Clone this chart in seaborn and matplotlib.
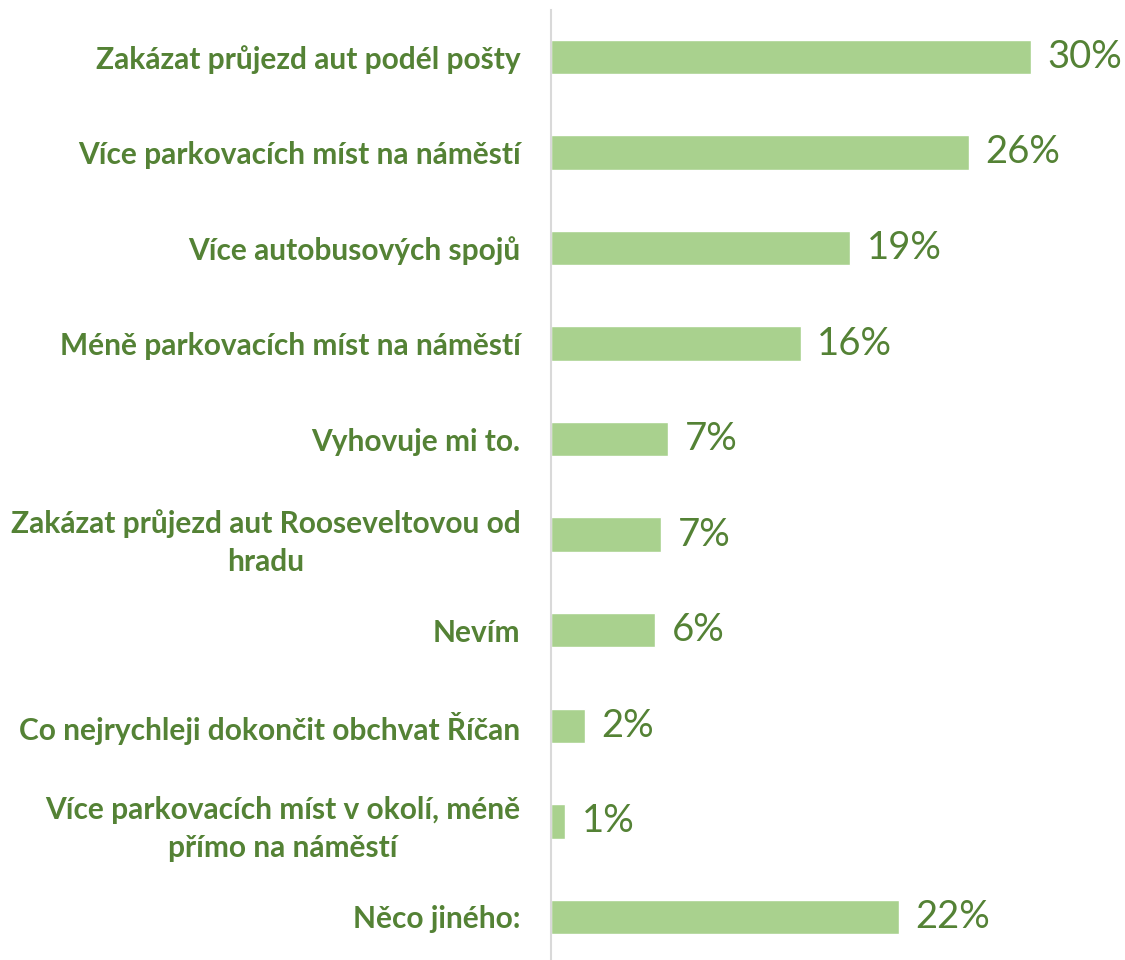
import matplotlib
matplotlib.use("Agg")
import matplotlib.pyplot as plt
import seaborn as sns
import pandas as pd

categories = [
    "Zakázat průjezd aut podél pošty",
    "Více parkovacích míst na náměstí",
    "Více autobusových spojů",
    "Méně parkovacích míst na náměstí",
    "Vyhovuje mi to.",
    "Zakázat průjezd aut Rooseveltovou od\nhradu",
    "Nevím",
    "Co nejrychleji dokončit obchvat Říčan",
    "Více parkovacích míst v okolí, méně\npřímo na náměstí",
    "Něco jiného:",
]
values = [30.0, 26.1, 18.7, 15.6, 7.3, 6.9, 6.5, 2.1, 0.9, 21.75]
value_labels = ["30%", "26%", "19%", "16%", "7%", "7%", "6%", "2%", "1%", "22%"]

BAR = "#A9D18E"
TXT = "#548235"

sns.set_theme(style="white")
plt.rcParams["font.family"] = ["Lato", "DejaVu Sans"]

df = pd.DataFrame({"cat": categories, "val": values})

fig = plt.figure(figsize=(11.25, 9.6), dpi=100)
ax = fig.add_axes([551 / 1125, 0.0, 1 - 551 / 1125, 1 - 10 / 960])
sns.barplot(data=df, x="val", y="cat", color=BAR, width=0.36, ax=ax,
            saturation=1, orient="h")

ax.set_xlim(0, 574 / 16)
ax.set_ylim(9.45, -0.49)
ax.set_xlabel("")
ax.set_ylabel("")
ax.set_xticks([])
for s in ["top", "right", "bottom"]:
    ax.spines[s].set_visible(False)
ax.spines["left"].set_color("#D9D9D9")
ax.spines["left"].set_linewidth(1.5)

ax.tick_params(axis="y", length=0, pad=22)
for t in ax.get_yticklabels():
    t.set_color(TXT)
    t.set_fontweight("bold")
    t.set_fontsize(21.5)
    t.set_multialignment("center")
    t.set_linespacing(1.45)

for i, (v, lab) in enumerate(zip(values, value_labels)):
    ax.annotate(lab, xy=(v, i), xytext=(12, 0), textcoords="offset points",
                ha="left", va="center", color=TXT, fontsize=27.5)

fig.savefig("out.png", dpi=100)
